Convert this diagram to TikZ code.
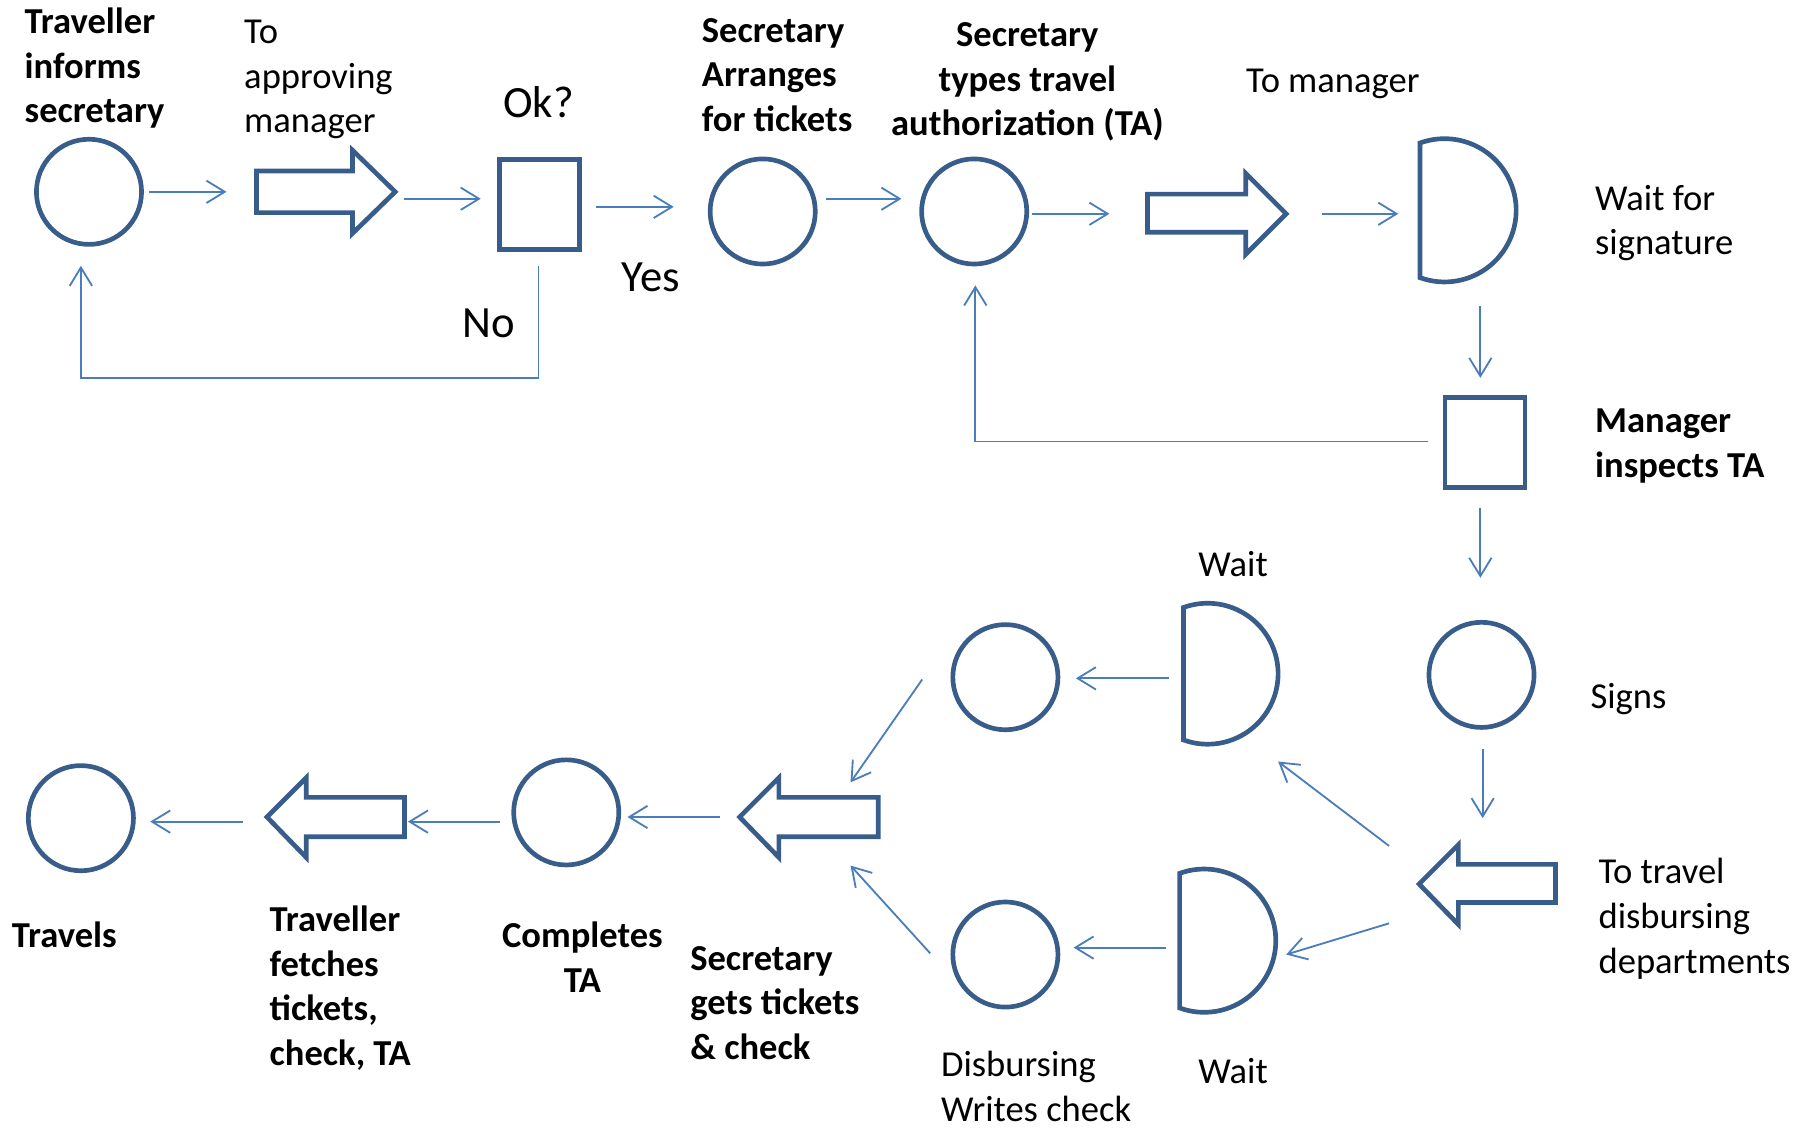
\documentclass[tikz,border=0pt]{standalone}
\usepackage{fontspec}
\setmainfont{Carlito}
\usetikzlibrary{arrows.meta}
\definecolor{shapeblue}{HTML}{385D8A}
\definecolor{linkblue}{HTML}{4A7EBB}
\begin{document}
\begin{tikzpicture}[x=0.02cm,y=-0.02cm,
  proc/.style={circle, draw=shapeblue, line width=2.3pt, minimum size=1.82cm, inner sep=0pt},
  inspect/.style={rectangle, draw=shapeblue, line width=2.3pt, minimum width=1.38cm, minimum height=1.56cm, inner sep=0pt},
  outline/.style={draw=shapeblue, line width=2.3pt, line join=miter},
  conn/.style={draw=linkblue, line width=0.9pt, -{Straight Barb[length=9pt,width=11pt]}},
  lbl/.style={font=\fontsize{18}{22}\selectfont, inner sep=0pt},
  blbl/.style={font=\fontsize{18}{22}\selectfont\bfseries, inner sep=0pt},
  big/.style={font=\fontsize{22}{26}\selectfont, inner sep=0pt},
]
\useasboundingbox (0,0) rectangle (1568,976);

% ---- process circles and inspection boxes ----
\node[proc] (inform)   at (77,166)  {};
\node[proc] (arrange)  at (660,183) {};
\node[proc] (typeta)   at (843,183) {};
\node[proc] (signs)    at (1282,584) {};
\node[proc] (getta)    at (870,586) {};
\node[proc] (writechk) at (870,826) {};
\node[proc] (complete) at (490,703) {};
\node[proc] (travels)  at (70,708)  {};
\node[inspect] (okbox)  at (467,177) {};
\node[inspect] (mgrbox) at (1285,383) {};

% ---- transport arrows ----
\draw[outline] (222,148) -- (305,148) -- (305,130) -- (342,166) -- (305,202) -- (305,184) -- (222,184) -- cycle;
\draw[outline] (993,168) -- (1078,168) -- (1078,150) -- (1113,185) -- (1078,220) -- (1078,201) -- (993,201) -- cycle;
\draw[outline] (1346,748) -- (1262,748) -- (1262,731) -- (1228,765) -- (1262,800) -- (1262,781) -- (1346,781) -- cycle;
\draw[outline] (760,690) -- (674,690) -- (674,673) -- (640,707) -- (674,742) -- (674,724) -- (760,724) -- cycle;
\draw[outline] (350,690) -- (265,690) -- (265,673) -- (231,707) -- (265,742) -- (265,724) -- (350,724) -- cycle;

% ---- delay shapes ----
\draw[outline] plot[domain=-110:110, samples=60] ({1250+62*cos(\x)},{182+62*sin(\x)}) -- cycle;
\draw[outline] plot[domain=-110:110, samples=60] ({1045+61*cos(\x)},{583+61*sin(\x)}) -- cycle;
\draw[outline] plot[domain=-110:110, samples=60] ({1042+62*cos(\x)},{814+62*sin(\x)}) -- cycle;

% ---- connector end points ----
\coordinate (c1a) at (129,166);  \coordinate (c1b) at (196,166);
\coordinate (c2a) at (350,172);  \coordinate (c2b) at (416,172);
\coordinate (c3a) at (516,179);  \coordinate (c3b) at (583,179);
\coordinate (noa) at (466,230);  \coordinate (nob) at (466,327);
\coordinate (noc) at (70,327);   \coordinate (nod) at (70,230);
\coordinate (c5a) at (715,172);  \coordinate (c5b) at (780,172);
\coordinate (c6a) at (893,185);  \coordinate (c6b) at (960,185);
\coordinate (c7a) at (1144,185); \coordinate (c7b) at (1210,185);
\coordinate (c8a) at (1281,265); \coordinate (c8b) at (1281,327);
\coordinate (rea) at (1236,382); \coordinate (reb) at (844,382);
\coordinate (rec) at (844,247);
\coordinate (c10a) at (1281,440); \coordinate (c10b) at (1281,500);
\coordinate (c11a) at (1283,648); \coordinate (c11b) at (1283,708);
\coordinate (c12a) at (1202,732); \coordinate (c12b) at (1106,659);
\coordinate (c13a) at (1202,799); \coordinate (c13b) at (1113,826);
\coordinate (c14a) at (1012,587); \coordinate (c14b) at (931,587);
\coordinate (c15a) at (1009,820); \coordinate (c15b) at (929,820);
\coordinate (c16a) at (798,588);  \coordinate (c16b) at (736,677);
\coordinate (c17a) at (805,825);  \coordinate (c17b) at (736,749);
\coordinate (c18a) at (623,707);  \coordinate (c18b) at (543,707);
\coordinate (c19a) at (433,711);  \coordinate (c19b) at (353,711);
\coordinate (c20a) at (210,711);  \coordinate (c20b) at (130,711);

% ---- connectors ----
\draw[conn] (c1a) -- (c1b);
\draw[conn] (c2a) -- (c2b);
\draw[conn] (c3a) -- (c3b);
\draw[conn] (noa) -- (nob) -- (noc) -- (nod);
\draw[conn] (c5a) -- (c5b);
\draw[conn] (c6a) -- (c6b);
\draw[conn] (c7a) -- (c7b);
\draw[conn] (c8a) -- (c8b);
\draw[conn] (rea) -- (reb) -- (rec);
\draw[conn] (c10a) -- (c10b);
\draw[conn] (c11a) -- (c11b);
\draw[conn] (c12a) -- (c12b);
\draw[conn] (c13a) -- (c13b);
\draw[conn] (c14a) -- (c14b);
\draw[conn] (c15a) -- (c15b);
\draw[conn] (c16a) -- (c16b);
\draw[conn] (c17a) -- (c17b);
\draw[conn] (c18a) -- (c18b);
\draw[conn] (c19a) -- (c19b);
\draw[conn] (c20a) -- (c20b);

% ---- labels ----
\node[blbl, align=left, anchor=west] (t1) at (21,59) {Traveller\\informs\\secretary};
\node[lbl, align=left, anchor=west] (t2) at (211,69) {To\\approving\\manager};
\node[big] (t3) at (466,88) {Ok?};
\node[big] (t4) at (563,240) {Yes};
\node[big] (t5) at (423,280) {No};
\node[blbl, align=left, anchor=west] (t6) at (607,65) {Secretary\\Arranges\\for tickets};
\node[blbl, align=center] (t7) at (889,71) {Secretary\\types travel\\authorization (TA)};
\node[lbl, anchor=west] (t8) at (1078,73) {To manager};
\node[lbl, align=left, anchor=west] (t9) at (1380,193) {Wait for\\signature};
\node[blbl, align=left, anchor=west] (t10) at (1380,386) {Manager\\inspects TA};
\node[lbl] (t11) at (1067,488) {Wait};
\node[lbl, anchor=west] (t12) at (1376,605) {Signs};
\node[lbl, align=left, anchor=west] (t13) at (1383,795) {To travel\\disbursing\\departments};
\node[lbl] (t14) at (1067,927) {Wait};
\node[lbl, align=left, anchor=west] (t15) at (814,940) {Disbursing\\Writes check};
\node[blbl, align=left, anchor=west] (t16) at (597,868) {Secretary\\gets tickets\\\& check};
\node[blbl, align=center] (t17) at (504,828) {Completes\\TA};
\node[blbl, align=left, anchor=west] (t18) at (233,855) {Traveller\\fetches\\tickets,\\check, TA};
\node[blbl, anchor=west] (t19) at (10,809) {Travels};
\end{tikzpicture}
\end{document}
